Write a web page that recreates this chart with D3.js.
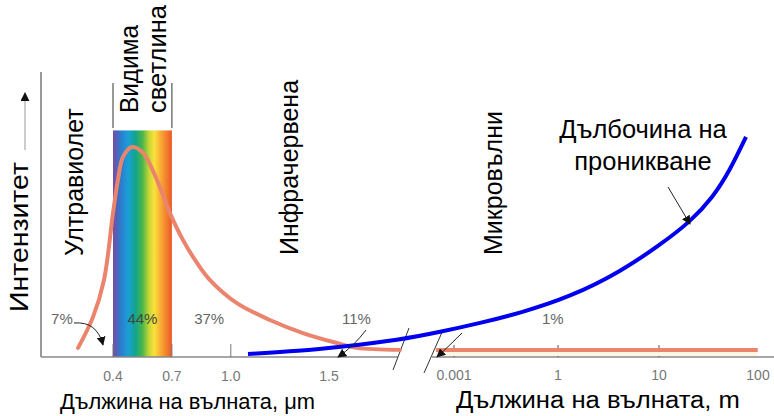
<!DOCTYPE html>
<html>
<head>
<meta charset="utf-8">
<script src="https://cdn.jsdelivr.net/npm/d3@7"></script>
<style>
  body { margin: 0; background: #fff; }
  text { font-family: "Liberation Sans", Arial, sans-serif; }
</style>
</head>
<body>
<div id="chart"></div>
<script>
// данни, отчетени от картинката
var wavelengthUm = [0.222, 0.298, 0.354, 0.400, 0.425, 0.451, 0.497, 0.553, 0.624, 0.690, 0.756, 0.828, 0.894, 1.031, 1.199, 1.367, 1.541, 1.642, 1.861];
var intensity    = [3.2, 14.0, 27.0, 50.5, 62.1, 70.2, 73.7, 71.6, 62.1, 50.5, 41.1, 33.0, 27.0, 18.9, 13.0, 8.4, 4.9, 3.2, 2.5];
var wavelengthM  = [0.0003, 95];
var intensityM   = [2.5, 2.5];
var depthPos     = [0, 10.4, 18.5, 30.5, 38.6, 46.6, 54.6, 64.7, 74.7, 82.7, 88.8, 93.4, 96.8, 100];
var depth        = [1.05, 2.1, 3.5, 6.0, 8.8, 11.9, 15.4, 21.1, 29.8, 39.3, 47.4, 56.1, 65.6, 77.2];
var ticksUm      = [0.4, 0.7, 1.0, 1.5];
var ticksM       = [0.001, 1, 10, 100];
var regions      = ["Ултравиолет", "Инфрачервена", "Микровълни"];
var shares       = ["7%", "44%", "37%", "11%", "1%"];

var W = 774, H = 416, base = 357;

var svg = d3.select("#chart").append("svg")
    .attr("width", W).attr("height", H);

svg.append("defs").append("marker")
    .attr("id", "arr").attr("viewBox", "0 0 10 10")
    .attr("refX", 9).attr("refY", 5)
    .attr("markerWidth", 9).attr("markerHeight", 9)
    .attr("markerUnits", "userSpaceOnUse")
    .attr("orient", "auto")
    .append("path").attr("d", "M0,0L10,5L0,10z").attr("fill", "#111");

// скали
var xUm = d3.scaleLinear().domain([0.4, 1.5]).range([113, 329]);
var xM = d3.scaleLinear().domain([-3, 0, 2]).range([454, 558, 760]); // по log10
var y = d3.scaleLinear().domain([0, 100]).range([base, 72]);
var xDepth = d3.scaleLinear().domain([0, 100]).range([248, 746]);

// дъга на видимата светлина
var grad = svg.select("defs").append("linearGradient").attr("id", "rainbow");
[["0%", "#7b4b9f"], ["12%", "#2f78cc"], ["26%", "#1aa0d6"], ["38%", "#12a48c"],
 ["50%", "#4cb649"], ["61%", "#c4d636"], ["70%", "#fbe13b"], ["83%", "#f6a233"], ["100%", "#ec5727"]]
    .forEach(function(s) { grad.append("stop").attr("offset", s[0]).attr("stop-color", s[1]); });

svg.append("rect")
    .attr("x", xUm(0.4)).attr("y", y(79.5))
    .attr("width", xUm(0.7) - xUm(0.4)).attr("height", base - y(79.5))
    .attr("fill", "url(#rainbow)");

// скоби над дъгата
[0.4, 0.7].forEach(function(v) {
    svg.append("line").attr("x1", xUm(v)).attr("x2", xUm(v))
        .attr("y1", 83).attr("y2", 128).attr("stroke", "#333").attr("stroke-width", 1);
});

// оси
svg.append("line").attr("x1", 41).attr("x2", 41).attr("y1", 72).attr("y2", base)
    .attr("stroke", "#777").attr("stroke-width", 1.5);
svg.append("line").attr("x1", 41).attr("x2", 398).attr("y1", base).attr("y2", base)
    .attr("stroke", "#888").attr("stroke-width", 1.5);
svg.append("line").attr("x1", 432).attr("x2", 774).attr("y1", base).attr("y2", base)
    .attr("stroke", "#888").attr("stroke-width", 1.5);

// прекъсване
[[393, 370, 409, 328], [424, 373, 443, 330]].forEach(function(s) {
    svg.append("line").attr("x1", s[0]).attr("y1", s[1]).attr("x2", s[2]).attr("y2", s[3])
        .attr("stroke", "#333").attr("stroke-width", 1);
});

// деления
svg.selectAll(".tkU").data(ticksUm.slice(0, 3)).enter().append("line")
    .attr("x1", function(d) { return xUm(d); }).attr("x2", function(d) { return xUm(d); })
    .attr("y1", base - 13).attr("y2", base).attr("stroke", "#777");
svg.selectAll(".tlU").data(ticksUm).enter().append("text")
    .attr("x", function(d) { return xUm(d); }).attr("y", 381)
    .attr("text-anchor", "middle").attr("font-size", 14).attr("fill", "#777")
    .text(function(d) { return d3.format(".1f")(d); });
svg.selectAll(".tkM").data(ticksM.slice(0, 3)).enter().append("line")
    .attr("x1", function(d) { return xM(Math.log10(d)); }).attr("x2", function(d) { return xM(Math.log10(d)); })
    .attr("y1", base - 12).attr("y2", base).attr("stroke", "#555");
svg.selectAll(".tlM").data(ticksM).enter().append("text")
    .attr("x", function(d) { return xM(Math.log10(d)) - (d === 100 ? 2 : 0); }).attr("y", 380)
    .attr("text-anchor", "middle").attr("font-size", 14).attr("fill", "#777")
    .text(function(d) { return d; });

// крива на интензитета
var ptsUm = wavelengthUm.map(function(v, i) { return [xUm(v), y(intensity[i])]; });
var ptsM = wavelengthM.map(function(v, i) { return [xM(Math.log10(v)), y(intensityM[i])]; });
var line = d3.line().curve(d3.curveMonotoneX);

svg.append("path")
    .attr("d", d3.area().y0(base - 1).y1(function(d) { return d[1] + 2; })(ptsM))
    .attr("fill", "#fdf5e6");
svg.append("path").attr("d", d3.line().curve(d3.curveCatmullRom.alpha(0.5))(ptsUm))
    .attr("fill", "none").attr("stroke", "#ea846d").attr("stroke-width", 4).attr("stroke-linecap", "round");
svg.append("path").attr("d", line(ptsM))
    .attr("fill", "none").attr("stroke", "#ea846d").attr("stroke-width", 4);

// дълбочина на проникване
svg.append("path")
    .attr("d", d3.line().curve(d3.curveBasis)(depthPos.map(function(v, i) { return [xDepth(v), y(depth[i])]; })))
    .attr("fill", "none").attr("stroke", "#0000ee").attr("stroke-width", 4);

// проценти
var shareX = [xUm(0.14), xUm(0.55), xUm(0.89), xUm(1.64), xM(-0.15)];
svg.selectAll(".pct").data(shares).enter().append("text")
    .attr("x", function(d, i) { return shareX[i]; }).attr("y", 324)
    .attr("text-anchor", "middle").attr("font-size", 15)
    .attr("fill", function(d, i) { return i === 1 ? "#3c4a40" : "#666"; })
    .text(function(d) { return d; });

var arrows = ["M74,323 Q97,321 103,345", "M366,330 Q354,346 338,357",
              "M462,333 Q449,346 437,357", "M668,187 L690,224"];
arrows.forEach(function(p) {
    svg.append("path").attr("d", p).attr("fill", "none")
        .attr("stroke", "#222").attr("stroke-width", 1).attr("marker-end", "url(#arr)");
});

// стрелка по вертикалата
svg.append("line").attr("x1", 25).attr("x2", 25).attr("y1", 150).attr("y2", 93)
    .attr("stroke", "#bbb").attr("stroke-width", 1.5).attr("marker-end", "url(#arr)");

// надписи, завъртени
function vtext(x, y0, s, size, len) {
    var t = svg.append("text")
        .attr("transform", "translate(" + x + "," + y0 + ") rotate(-90)")
        .attr("font-size", size).attr("fill", "#000").text(s);
    if (len) t.attr("textLength", len).attr("lengthAdjust", "spacingAndGlyphs");
}
vtext(28, 312, "Интензитет", 26, 150);
vtext(83, 256, regions[0], 25);
vtext(298, 255, regions[1], 25);
vtext(502, 255, regions[2], 25);
vtext(138, 113, "Видима", 25.5, 88);
vtext(166, 113, "светлина", 25.5, 108);

// заглавия на осите
svg.append("text").attr("x", 60).attr("y", 409)
    .attr("font-size", 22).attr("textLength", 255).attr("lengthAdjust", "spacingAndGlyphs")
    .text("Дължина на вълната, μm");
svg.append("text").attr("x", 456).attr("y", 408)
    .attr("font-size", 23).attr("textLength", 284).attr("lengthAdjust", "spacingAndGlyphs")
    .text("Дължина на вълната, m");

svg.append("text").attr("x", 643).attr("y", 138).attr("text-anchor", "middle")
    .attr("font-size", 25.5).text("Дълбочина на");
svg.append("text").attr("x", 643).attr("y", 170).attr("text-anchor", "middle")
    .attr("font-size", 25.5).text("проникване");
</script>
</body>
</html>
